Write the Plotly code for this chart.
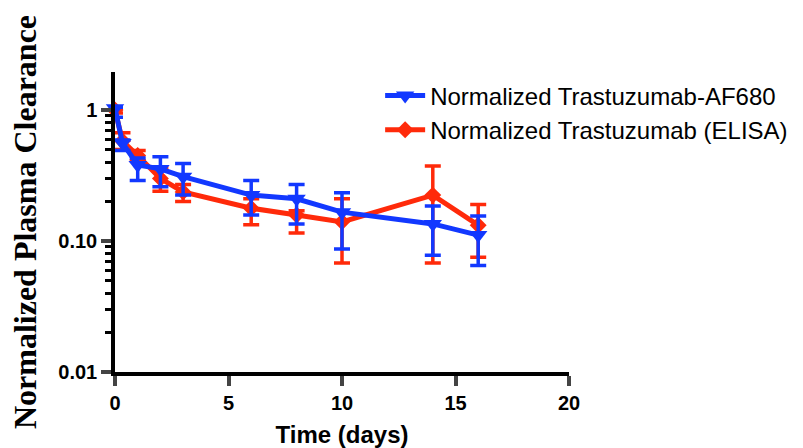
import plotly.graph_objects as go

days = [0, 0.33, 1, 2, 3, 6, 8, 10, 14, 16]

af680 = [1.03, 0.56, 0.38, 0.355, 0.31, 0.224, 0.21, 0.166, 0.135, 0.111]
af680_hi = [1.05, 0.59, 0.43, 0.44, 0.39, 0.29, 0.27, 0.233, 0.185, 0.155]
af680_lo = [0.88, 0.49, 0.29, 0.26, 0.224, 0.158, 0.135, 0.087, 0.078, 0.065]

elisa = [1.0, 0.58, 0.45, 0.30, 0.237, 0.178, 0.158, 0.14, 0.224, 0.132]
elisa_hi = [1.02, 0.67, 0.49, 0.36, 0.27, 0.21, 0.17, 0.21, 0.374, 0.19]
elisa_lo = [0.95, 0.50, 0.41, 0.24, 0.20, 0.133, 0.115, 0.068, 0.068, 0.075]

blue = "#1238ff"
red = "#ff2a0a"

def err(v, hi, lo):
    return dict(type="data", symmetric=False,
                array=[h - x for h, x in zip(hi, v)],
                arrayminus=[x - l for l, x in zip(lo, v)],
                thickness=3.5, width=8)

fig = go.Figure()
fig.add_trace(go.Scatter(
    x=days, y=elisa, name="Normalized Trastuzumab (ELISA)", mode="lines+markers",
    line=dict(color=red, width=5),
    marker=dict(symbol="diamond", size=13, color=red),
    error_y=dict(color=red, **err(elisa, elisa_hi, elisa_lo)),
    cliponaxis=False))
fig.add_trace(go.Scatter(
    x=days, y=af680, name="Normalized Trastuzumab-AF680", mode="lines+markers",
    line=dict(color=blue, width=5),
    marker=dict(symbol="triangle-down", size=16, color=blue),
    error_y=dict(color=blue, **err(af680, af680_hi, af680_lo)),
    cliponaxis=False))

minor_vals = [k * 10**e for e in (-2, -1) for k in range(2, 10)]

fig.update_layout(
    width=803, height=448,
    margin=dict(l=115, r=234, t=72, b=76, autoexpand=False),
    plot_bgcolor="white", paper_bgcolor="white",
    font=dict(family="Liberation Sans, Arial", color="black"),
    showlegend=True,
    legend=dict(x=0.584, xanchor="left", y=0.995, yanchor="top",
                font=dict(size=24, family="Liberation Sans, Arial"),
                traceorder="reversed", itemwidth=40, tracegroupgap=0,
                bgcolor="rgba(0,0,0,0)"),
    xaxis=dict(range=[0, 20], tickvals=[0, 5, 10, 15, 20], ticks="outside",
               ticklen=10, tickwidth=3.5, showline=True, linewidth=3.5,
               linecolor="black", showgrid=False, zeroline=False, automargin=False,
               tickfont=dict(size=20, weight="bold"),
               title=dict(text="Time (days)", font=dict(size=24, weight="bold"),
                          standoff=16)),
    yaxis=dict(type="log", range=[-2, 0.29], tickvals=[0.01, 0.1, 1],
               ticktext=["0.01", "0.10", "1"], ticks="outside",
               ticklen=10, tickwidth=3.5, showline=True, linewidth=3.5,
               linecolor="black", showgrid=False, zeroline=False, automargin=False,
               tickfont=dict(size=20, weight="bold"),
               minor=dict(tickvals=minor_vals, ticks="outside", ticklen=6,
                          tickwidth=3, tickcolor="black", showgrid=False),
               title=dict(text="Normalized Plasma Clearance",
                          font=dict(size=32, family="Liberation Serif, Times New Roman",
                                    weight="bold"), standoff=13)),
)

fig.write_html("out.html")
